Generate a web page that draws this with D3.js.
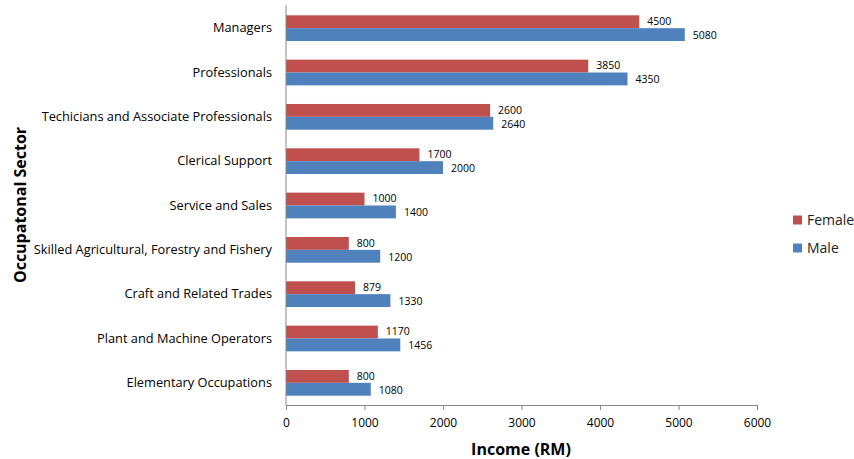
<!DOCTYPE html>
<html>
<head>
<meta charset="utf-8">
<script src="https://cdn.jsdelivr.net/npm/d3@7"></script>
<style>
body{margin:0;background:#fff;}
svg{font-family:"Open Sans","Noto Sans",sans-serif;}
</style>
</head>
<body>
<svg id="chart" width="854" height="459"></svg>
<script>
const categories = ["Managers","Professionals","Techicians and Associate Professionals","Clerical Support","Service and Sales","Skilled Agricultural, Forestry and Fishery","Craft and Related Trades","Plant and Machine Operators","Elementary Occupations"];
const female = [4500,3850,2600,1700,1000,800,879,1170,800];
const male = [5080,4350,2640,2000,1400,1200,1330,1456,1080];
const seriesNames = ["Female","Male"];
const colors = ["#C0504D","#4F81BD"];
const xTicks = [0,1000,2000,3000,4000,5000,6000];

const svg = d3.select("#chart");
const pLeft = 286, pRight = 757, pTop = 6, pBottom = 405;

const x = d3.scaleLinear().domain([0,6000]).range([pLeft,pRight]);
const y = d3.scaleBand().domain(categories).range([pTop,pBottom]).paddingInner(0.42).paddingOuter(0.21);
const sub = d3.scaleBand().domain(seriesNames).range([0,y.bandwidth()]);

const data = [female, male];

// bars
seriesNames.forEach((s,si)=>{
  const g = svg.append("g");
  g.selectAll("rect").data(categories).join("rect")
    .attr("x", x(0))
    .attr("y", c => y(c)+sub(s))
    .attr("width", (c,i) => x(data[si][i]) - x(0))
    .attr("height", sub.bandwidth())
    .attr("fill", colors[si]);
  g.selectAll("text").data(categories).join("text")
    .attr("x", (c,i) => x(data[si][i]) + 8)
    .attr("y", c => y(c)+sub(s)+sub.bandwidth()/2 + (si===0 ? -0.5 : 0.8))
    .attr("dy","0.35em")
    .attr("font-size", 10.5)
    .attr("fill", "#000")
    .text((c,i) => data[si][i]);
});

// x axis
const xAxis = svg.append("g").attr("transform",`translate(0,${pBottom})`)
  .call(d3.axisBottom(x).tickValues(xTicks).tickSize(5).tickSizeOuter(0).tickFormat(d3.format("d")));
xAxis.select(".domain").attr("stroke","#888");
xAxis.selectAll(".tick line").attr("stroke","#888");
xAxis.selectAll(".tick text").attr("font-size",12).attr("fill","#000").attr("dy","1.2em").attr("font-family","'Open Sans','Noto Sans',sans-serif");

// y axis
const yAxis = svg.append("g").attr("transform",`translate(${pLeft},0)`)
  .call(d3.axisLeft(y).tickSize(0).tickPadding(14));
yAxis.select(".domain").attr("stroke","#888").attr("d",`M0,${pTop-1}V${pBottom}`);
yAxis.selectAll(".tick text").attr("font-size",12.8).attr("fill","#000").attr("font-family","'Open Sans','Noto Sans',sans-serif");

// axis titles
svg.append("text").attr("x",521).attr("y",449).attr("dy","0.35em")
  .attr("text-anchor","middle").attr("font-size",16).attr("font-weight","bold").text("Income (RM)");
svg.append("text").attr("transform","translate(20,205) rotate(-90)").attr("dy","0.35em")
  .attr("text-anchor","middle").attr("font-size",16).attr("font-weight","bold").text("Occupatonal Sector");

// legend
const legY = [220,248];
seriesNames.forEach((s,i)=>{
  svg.append("rect").attr("x",793).attr("y",legY[i]-4.5).attr("width",9).attr("height",9).attr("fill",colors[i]);
  svg.append("text").attr("x",807).attr("y",legY[i]).attr("dy","0.35em").attr("font-size",14).attr("fill","#222").text(s);
});
</script>
</body>
</html>
